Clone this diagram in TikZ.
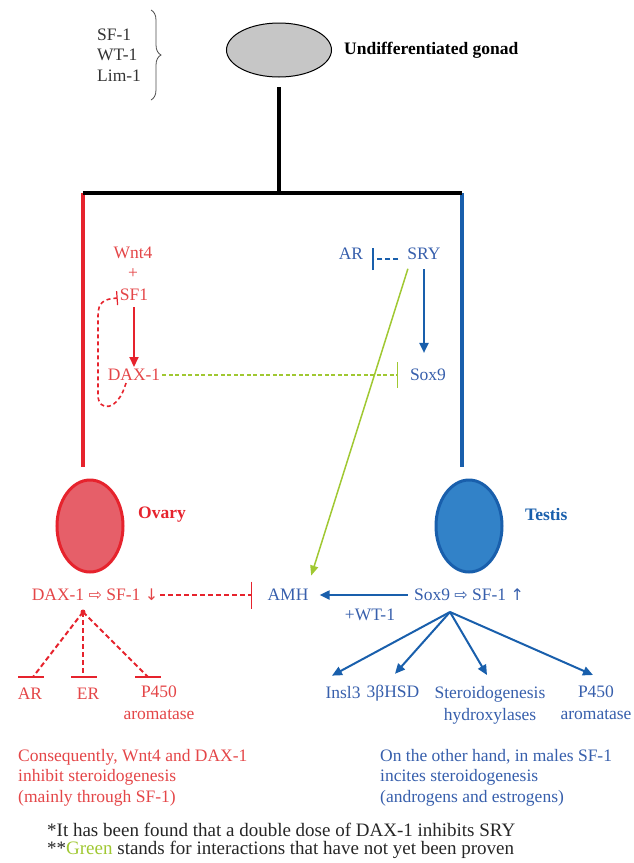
\documentclass[tikz,border=0pt]{standalone}
\usepackage{fontspec}
\setmainfont{Liberation Serif}
\newfontfamily\symfont{DejaVu Sans}
\usetikzlibrary{arrows.meta,shapes.geometric,decorations.pathreplacing}
\definecolor{ovred}{RGB}{230,35,45}
\definecolor{ovtext}{RGB}{228,70,72}
\definecolor{ovfill}{RGB}{230,95,105}
\definecolor{tsblue}{RGB}{25,95,172}
\definecolor{tstext}{RGB}{55,95,172}
\definecolor{tsfill}{RGB}{50,130,200}
\definecolor{unproven}{RGB}{160,200,50}
\newcommand{\arrsym}[1]{{\symfont\fontsize{16}{16}\selectfont #1}}
\tikzset{
  lbl/.style={font=\fontsize{17.5}{20.5}\selectfont, inner sep=2pt},
  fem/.style={lbl, text=ovtext},
  mal/.style={lbl, text=tstext},
  bold/.style={font=\fontsize{17.5}{20.5}\selectfont\bfseries},
  twoline/.style={font=\fontsize{17.5}{22}\selectfont, anchor=north, align=center},
  redarr/.style={ovred, line width=2pt, -{Triangle[length=10pt,width=9pt]}},
  bluearr/.style={tsblue, line width=2pt, -{Triangle[length=10pt,width=9pt]}},
  femdash/.style={ovred, line width=2pt, dash pattern=on 5pt off 3pt},
  barline/.style={ovred, line width=1.2pt}
}
\begin{document}
\begin{tikzpicture}[x=1pt,y=-1pt]
\useasboundingbox (0,0) rectangle (634,863);
\node (gonad) at (279,50) [ellipse,draw,line width=1pt,fill=gray!45,minimum width=105pt,minimum height=54pt] {};
\node (gonadlbl) at (342,50) [lbl,bold,anchor=west] {Undifferentiated gonad};
\node (factors) at (95,55) [lbl,anchor=west,align=left,text=black!80] {SF-1\\WT-1\\Lim-1};
\draw[decorate,decoration={brace,amplitude=10pt},line width=0.8pt,black!70] (151,10) -- (151,100);
\coordinate (top) at (279,87);
\coordinate (split) at (279,193);
\coordinate (redtop) at (83,193);
\coordinate (bluetop) at (462,193);
\coordinate (redend) at (83,467);
\coordinate (blueend) at (462,467);
\draw[ovred,line width=4pt] (redtop) -- (redend);
\draw[tsblue,line width=4pt] (bluetop) -- (blueend);
\draw[line width=4pt] (redtop) -- (bluetop);
\draw[line width=4pt] (top) -- (split);
\node (ovary) at (90,526) [ellipse,draw=ovred,line width=3pt,fill=ovfill,minimum width=66pt,minimum height=92pt] {};
\node (testis) at (469,526) [ellipse,draw=tsblue,line width=3pt,fill=tsfill,minimum width=66pt,minimum height=92pt] {};
\node (ovlbl) at (136,515) [lbl,bold,anchor=west,text=ovred] {Ovary};
\node (tslbl) at (523,515) [lbl,bold,anchor=west,text=tsblue] {Testis};

\node (wnt) at (133,253) [fem] {Wnt4};
\node (plus) at (133,274) [fem] {+};
\node (sf1) at (134,295) [fem] {SF1};
\node (dax) at (134,375) [fem] {DAX-1};
\draw[redarr,shorten <=4pt] (sf1) -- (dax);
\draw[ovred,line width=1.6pt,dash pattern=on 4pt off 3pt,-{Bar[width=14pt,line width=1.2pt]}] ([xshift=-8pt]dax.south) .. controls (118,412) and (98,412) .. (98,395) -- (98,316) .. controls (98,302) and (104,299) .. ([yshift=-3pt]sf1.west);
\node (ar) at (351,254) [mal] {AR};
\node (sry) at (424,254) [mal] {SRY};
\node (sox9) at (428,375) [mal] {Sox9};
\draw[tsblue,line width=2pt,dash pattern=on 5pt off 3pt,-{Bar[width=22pt,line width=1.2pt]},shorten <=7pt,shorten >=7pt] ([yshift=-5pt]sry.west) -- ([yshift=-5pt]ar.east);
\draw[bluearr,shorten <=7pt,shorten >=14pt] (sry.south) -- (sry.south |- sox9.north);
\draw[unproven,line width=1.5pt,dash pattern=on 4pt off 2.5pt,-{Bar[width=26pt,line width=1.2pt]},shorten >=10pt] (dax.east) -- (sox9.west);

\node (daxsf) at (95,595) [fem] {DAX-1 \arrsym{⇨} SF-1 \arrsym{↓}};
\node (amh) at (288,595) [mal] {AMH};
\node (sox9sf) at (469,595) [mal] {Sox9 \arrsym{⇨} SF-1 \arrsym{↑}};
\node (wt1) at (370,615) [mal] {+WT-1};
\draw[unproven,line width=1.5pt,-{Triangle[length=10pt,width=8pt]},shorten <=7pt,shorten >=12pt] ([xshift=-14pt]sry.south) -- ([xshift=-3pt]amh.north east);
\draw[femdash,-{Bar[width=27pt,line width=1.2pt]},shorten >=13pt] (daxsf.east) -- (amh.west);
\draw[bluearr,shorten <=4pt,shorten >=9pt] (sox9sf.west) -- (amh.east);

\coordinate (dot) at (83,612);
\fill[ovred] (dot) circle (2.5pt);
\node (ar2) at (30,694) [fem] {AR};
\node (er) at (88,694) [fem] {ER};
\node (p450f) at (159,684) [fem,twoline] {P450\\aromatase};
\coordinate (arbar) at (31,677);
\coordinate (erbar) at (84,677);
\coordinate (pbar) at (148,677);
\draw[femdash] (dot) -- ([xshift=2pt]arbar);
\draw[femdash] (dot) -- ([xshift=-1pt]erbar);
\draw[femdash] (dot) -- (pbar);
\draw[barline] ([xshift=-13pt]arbar) -- ([xshift=13pt]arbar);
\draw[barline] ([xshift=-13pt]erbar) -- ([xshift=13pt]erbar);
\draw[barline] ([xshift=-13pt]pbar) -- ([xshift=13pt]pbar);

\coordinate (fan) at (450,612);
\node (insl3) at (343,693) [mal] {Insl3};
\node (hsd) at (393,693) [mal] {3βHSD};
\node (steroid) at (490,684) [mal,twoline] {Steroidogenesis\\hydroxylases};
\node (p450m) at (596,684) [mal,twoline] {P450\\aromatase};
\draw[bluearr] (fan) -- ([xshift=-11pt,yshift=9pt]insl3.north);
\draw[bluearr] (fan) -- ([xshift=2pt,yshift=9pt]hsd.north);
\draw[bluearr] (fan) -- ([xshift=-3pt,yshift=9pt]steroid.north);
\draw[bluearr] (fan) -- ([xshift=-3pt,yshift=9pt]p450m.north);

\node (femnote) at (18,749) [fem,anchor=north west,align=left,inner sep=0pt] {Consequently, Wnt4 and DAX-1\\inhibit steroidogenesis\\(mainly through SF-1)};
\node (malnote) at (380,749) [mal,anchor=north west,align=left,inner sep=0pt] {On the other hand, in males SF-1\\incites steroidogenesis\\(androgens and estrogens)};
\node (foot) at (45,841) [lbl,anchor=west,align=left,text=black!85,font=\fontsize{19}{18.5}\selectfont] {*It has been found that a double dose of DAX-1 inhibits SRY\\**\textcolor{unproven}{Green} stands for interactions that have not yet been proven};
\end{tikzpicture}
\end{document}
